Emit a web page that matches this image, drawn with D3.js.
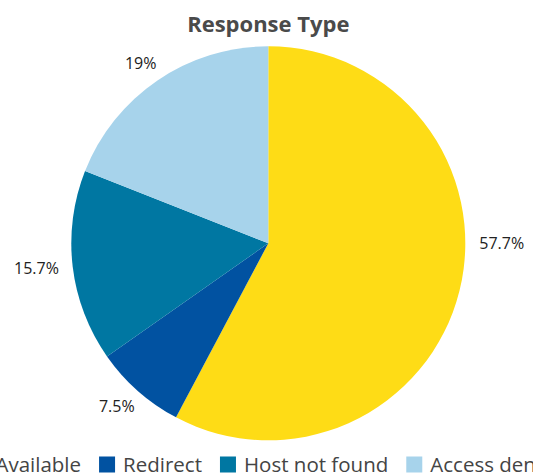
<!DOCTYPE html>
<html>
<head>
<meta charset="utf-8">
<script src="https://cdn.jsdelivr.net/npm/d3@7"></script>
<style>
  html, body { margin: 0; padding: 0; background: #fff; overflow: hidden; }
  svg { display: block; }
  text { font-family: "Open Sans", "Noto Sans", sans-serif; }
</style>
</head>
<body>
<svg id="chart" width="533" height="473"></svg>
<script>
// ---- data ----
const title = "Response Type";
const categories = ["Available", "Redirect", "Host not found", "Access denied"];
const values = [57.7, 7.5, 15.7, 19];
const labels = ["57.7%", "7.5%", "15.7%", "19%"];
const colors = ["#FEDC16", "#0152A1", "#0077A2", "#A7D3EB"];

// ---- layout / style ----
const W = 533, H = 473;
const cx = 268.3, cy = 243.3, R = 197;
const labelGap = 14;
// Excel "best fit" placed the largest label at 3 o'clock
const labelAngleOverride = { 0: Math.PI / 2 };

const svg = d3.select("#chart");

svg.append("text")
  .attr("x", cx).attr("y", 31.5)
  .attr("text-anchor", "middle")
  .attr("font-size", 22).attr("font-weight", 700)
  .attr("fill", "#4a4a4a")
  .text(title);

const pie = d3.pie().sort(null).value(d => d).startAngle(0).endAngle(2 * Math.PI);
const arcs = pie(values);
const arc = d3.arc().innerRadius(0).outerRadius(R);

const g = svg.append("g").attr("transform", `translate(${cx},${cy})`);
g.selectAll("path.slice").data(arcs).join("path")
  .attr("class", "slice")
  .attr("d", arc)
  .attr("fill", (d, i) => colors[i]);

// labels
const lg = g.append("g");
arcs.forEach((d, i) => {
  const t = lg.append("text")
    .attr("font-size", 16).attr("fill", "#222")
    .attr("text-anchor", "middle")
    .attr("dy", "0.35em")
    .text(labels[i]);
  const bb = t.node().getBBox();
  const a = (i in labelAngleOverride) ? labelAngleOverride[i] : (d.startAngle + d.endAngle) / 2;
  const s = Math.sin(a), c = Math.cos(a);
  const r0 = R + labelGap;
  const x = r0 * s + s * bb.width / 2;
  const y = -r0 * c - c * 6.5;
  t.attr("x", x).attr("y", y);
});

// legend
const legend = svg.append("g");
const sq = 16, tg = 8, ig = 18;
let xoff = 0;
const items = [];
categories.forEach((name, i) => {
  const it = legend.append("g");
  it.append("rect").attr("x", 0).attr("y", -15).attr("width", sq).attr("height", sq)
    .attr("fill", colors[i]);
  const t = it.append("text").attr("x", sq + tg).attr("y", 0)
    .attr("font-size", 20.5).attr("fill", "#444").text(name);
  const w = t.node().getComputedTextLength();
  it.attr("transform", `translate(${xoff},0)`);
  xoff += sq + tg + w + ig;
});
const total = xoff - ig;
legend.attr("transform", `translate(${cx - total / 2},${471.5})`);
</script>
</body>
</html>
